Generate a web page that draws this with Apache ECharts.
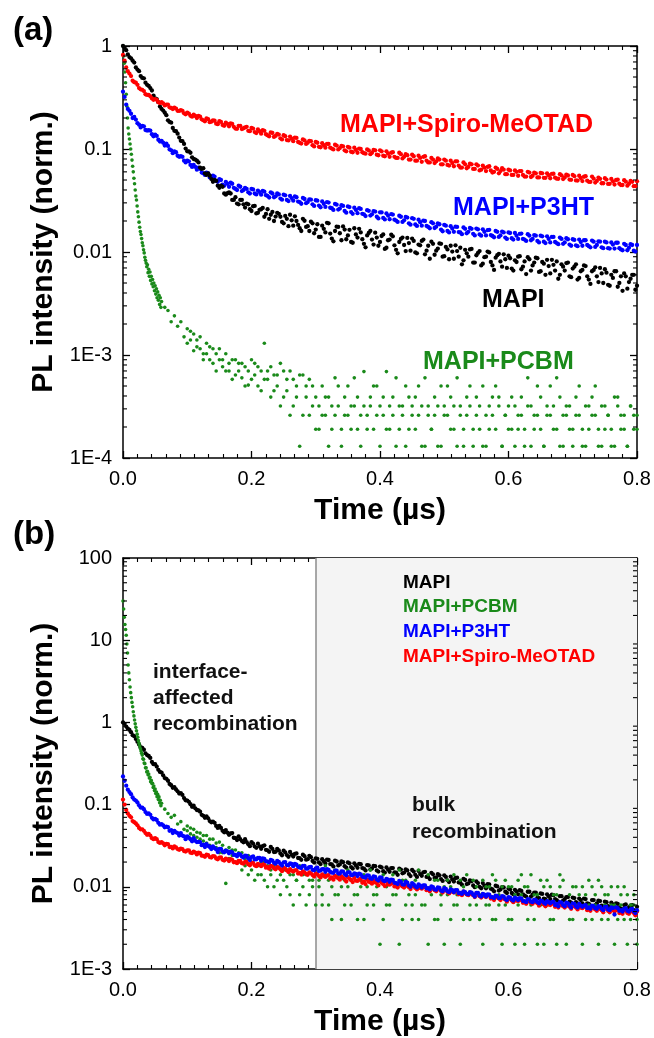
<!DOCTYPE html>
<html><head><meta charset="utf-8">
<script src="https://cdn.jsdelivr.net/npm/echarts@6/dist/echarts.min.js"></script>
<style>html,body{margin:0;padding:0;background:#fff}#c{width:654px;height:1038px}</style>
</head><body><div id="c"></div>
<script>
// ---------- data ----------
const times = [
0,0.005,0.01,0.015,0.02,0.025,0.03,0.035,0.04,0.045,
0.05,0.055,0.06,0.065,0.07,0.075,0.08,0.085,0.09,0.095,
0.1,0.105,0.11,0.115,0.12,0.125,0.13,0.135,0.14,0.145,
0.15,0.155,0.16,0.165,0.17,0.175,0.18,0.185,0.19,0.195,
0.2,0.205,0.21,0.215,0.22,0.225,0.23,0.235,0.24,0.245,
0.25,0.255,0.26,0.265,0.27,0.275,0.28,0.285,0.29,0.295,
0.3,0.305,0.31,0.315,0.32,0.325,0.33,0.335,0.34,0.345,
0.35,0.355,0.36,0.365,0.37,0.375,0.38,0.385,0.39,0.395,
0.4,0.405,0.41,0.415,0.42,0.425,0.43,0.435,0.44,0.445,
0.45,0.455,0.46,0.465,0.47,0.475,0.48,0.485,0.49,0.495,
0.5,0.505,0.51,0.515,0.52,0.525,0.53,0.535,0.54,0.545,
0.55,0.555,0.56,0.565,0.57,0.575,0.58,0.585,0.59,0.595,
0.6,0.605,0.61,0.615,0.62,0.625,0.63,0.635,0.64,0.645,
0.65,0.655,0.66,0.665,0.67,0.675,0.68,0.685,0.69,0.695,
0.7,0.705,0.71,0.715,0.72,0.725,0.73,0.735,0.74,0.745,
0.75,0.755,0.76,0.765,0.77,0.775,0.78,0.785,0.79,0.795,
0.8];
const timesMid = [
0.0025,0.0075,0.0125,0.0175,0.0225,0.0275,0.0325,0.0375,0.0425,0.0475,
0.0525,0.0575,0.0625,0.0675,0.0725,0.0775,0.0825,0.0875,0.0925,0.0975,
0.1025,0.1075,0.1125,0.1175,0.1225,0.1275,0.1325,0.1375,0.1425,0.1475,
0.1525,0.1575,0.1625,0.1675,0.1725,0.1775,0.1825,0.1875,0.1925,0.1975,
0.2025,0.2075,0.2125,0.2175,0.2225,0.2275,0.2325,0.2375,0.2425,0.2475,
0.2525,0.2575,0.2625,0.2675,0.2725,0.2775,0.2825,0.2875,0.2925,0.2975,
0.3025,0.3075,0.3125,0.3175,0.3225,0.3275,0.3325,0.3375,0.3425,0.3475,
0.3525,0.3575,0.3625,0.3675,0.3725,0.3775,0.3825,0.3875,0.3925,0.3975,
0.4025,0.4075,0.4125,0.4175,0.4225,0.4275,0.4325,0.4375,0.4425,0.4475,
0.4525,0.4575,0.4625,0.4675,0.4725,0.4775,0.4825,0.4875,0.4925,0.4975,
0.5025,0.5075,0.5125,0.5175,0.5225,0.5275,0.5325,0.5375,0.5425,0.5475,
0.5525,0.5575,0.5625,0.5675,0.5725,0.5775,0.5825,0.5875,0.5925,0.5975,
0.6025,0.6075,0.6125,0.6175,0.6225,0.6275,0.6325,0.6375,0.6425,0.6475,
0.6525,0.6575,0.6625,0.6675,0.6725,0.6775,0.6825,0.6875,0.6925,0.6975,
0.7025,0.7075,0.7125,0.7175,0.7225,0.7275,0.7325,0.7375,0.7425,0.7475,
0.7525,0.7575,0.7625,0.7675,0.7725,0.7775,0.7825,0.7875,0.7925,0.7975];
const timesEarly = [
0,0.001,0.002,0.003,0.004,0.005,0.006,0.007,0.008,0.009,
0.01,0.011,0.012,0.013,0.014,0.015,0.016,0.017,0.018,0.019,
0.02,0.021,0.022,0.023,0.024,0.025,0.026,0.027,0.028,0.029,
0.03,0.031,0.032,0.033,0.034,0.035,0.036,0.037,0.038,0.039,
0.04,0.041,0.042,0.043,0.044,0.045,0.046,0.047,0.048,0.049,
0.05,0.051,0.052,0.053,0.054,0.055,0.056,0.057,0.058,0.059,
0.06];

// ===== panel (a) =====
const mapiA = [
1.0,0.91,0.78,0.72,0.62,0.57,0.49,0.44,0.41,0.37,
0.31,0.285,0.245,0.225,0.19,0.18,0.15,0.141,0.12,0.112,
0.095,0.092,0.08,0.077,0.066,0.065,0.056,0.055,0.048,0.049,
0.042,0.043,0.036,0.038,0.032,0.034,0.029,0.032,0.027,0.029,
0.025,0.028,0.024,0.026,0.022,0.026,0.023,0.020,0.024,0.022,
0.019,0.021,0.023,0.018,0.020,0.017,0.021,0.0175,0.016,0.019,
0.0165,0.014,0.018,0.0155,0.019,0.0135,0.016,0.0175,0.013,0.0165,
0.0145,0.0125,0.017,0.0138,0.0155,0.012,0.0145,0.016,0.0118,0.0138,
0.0125,0.0148,0.011,0.0132,0.0142,0.0105,0.0125,0.0138,0.0102,0.0122,
0.0135,0.0099,0.0118,0.0128,0.0095,0.0115,0.0126,0.0094,0.0108,0.012,
0.0091,0.0106,0.0115,0.0086,0.0102,0.011,0.0083,0.0097,0.0106,0.0079,
0.0093,0.0102,0.0077,0.009,0.0099,0.0074,0.0088,0.0096,0.0072,0.0085,
0.0092,0.0069,0.0083,0.009,0.0068,0.0081,0.0089,0.0066,0.0079,0.0087,
0.0065,0.0077,0.0084,0.0062,0.0075,0.0081,0.006,0.0072,0.0078,0.0058,
0.0069,0.0076,0.0056,0.0067,0.0073,0.0054,0.0065,0.0071,0.0051,0.0062,
0.0068,0.0048,0.006,0.0065,0.0046,0.0058,0.0062,0.0044,0.0055,0.006,
0.0047];
const mapiAMid = [
0.96,0.83,0.76,0.69,0.59,0.51,0.485,0.42,0.39,0.33,
0.305,0.258,0.236,0.213,0.183,0.16,0.149,0.129,0.119,0.101,
0.095,0.083,0.079,0.074,0.064,0.058,0.058,0.051,0.05,0.044,
0.044,0.037,0.0372,0.037,0.032,0.0295,0.032,0.029,0.0295,0.026,
0.0278,0.0237,0.0257,0.0268,0.0234,0.021,0.0245,0.0221,0.0235,0.0196,
0.0224,0.0178,0.0203,0.0222,0.0183,0.016,0.0201,0.0178,0.0197,0.0152,
0.0186,0.014,0.0168,0.0192,0.0151,0.0127,0.0176,0.0152,0.0177,0.0133,
0.0164,0.0123,0.0148,0.0168,0.0133,0.0111,0.0153,0.0132,0.0154,0.0115,
0.0143,0.0107,0.013,0.0147,0.0116,0.0097,0.0134,0.0117,0.0137,0.0103,
0.0128,0.0097,0.0116,0.0132,0.0103,0.0086,0.012,0.0103,0.0121,0.009,
0.0112,0.0085,0.0101,0.0116,0.009,0.0076,0.0105,0.009,0.0107,0.0079,
0.0098,0.0074,0.0089,0.0101,0.008,0.0067,0.0093,0.0081,0.0095,0.007,
0.0087,0.0066,0.008,0.0091,0.0072,0.0061,0.0085,0.0074,0.0088,0.0064,
0.008,0.006,0.0073,0.0084,0.0066,0.0055,0.0076,0.0066,0.0079,0.0057,
0.0072,0.0054,0.0065,0.0074,0.0058,0.0049,0.0067,0.0058,0.007,0.005,
0.0063,0.0047,0.0056,0.0065,0.005,0.0042,0.0058,0.0051,0.006,0.0043];
const spiroA = [
0.82,0.62,0.54,0.46,0.44,0.39,0.375,0.34,0.335,0.31,
0.305,0.285,0.285,0.265,0.27,0.25,0.252,0.235,0.238,0.222,
0.226,0.21,0.215,0.2,0.206,0.19,0.198,0.182,0.19,0.176,
0.186,0.171,0.18,0.166,0.175,0.158,0.168,0.156,0.162,0.15,
0.16,0.146,0.155,0.141,0.15,0.136,0.145,0.131,0.14,0.127,
0.136,0.122,0.132,0.119,0.128,0.115,0.124,0.112,0.12,0.109,
0.117,0.105,0.114,0.103,0.112,0.101,0.11,0.099,0.107,0.097,
0.105,0.094,0.103,0.092,0.1,0.091,0.099,0.089,0.098,0.088,
0.097,0.086,0.095,0.084,0.093,0.082,0.092,0.081,0.089,0.079,
0.088,0.077,0.086,0.075,0.085,0.074,0.082,0.073,0.081,0.071,
0.079,0.07,0.077,0.068,0.076,0.066,0.074,0.065,0.072,0.064,
0.071,0.062,0.069,0.061,0.068,0.059,0.066,0.058,0.065,0.057,
0.063,0.056,0.062,0.055,0.061,0.054,0.06,0.0535,0.059,0.053,
0.0585,0.0525,0.058,0.052,0.0575,0.0515,0.057,0.051,0.0565,0.0505,
0.056,0.0495,0.055,0.0488,0.0545,0.048,0.054,0.0472,0.0528,0.0465,
0.052,0.0458,0.0512,0.0452,0.0505,0.0446,0.0498,0.044,0.049,0.0436,
0.0485];
const spiroAMid = [
0.72,0.57,0.51,0.445,0.42,0.38,0.365,0.335,0.325,0.30,
0.3,0.279,0.277,0.27,0.254,0.244,0.247,0.234,0.235,0.217,
0.221,0.206,0.209,0.209,0.194,0.186,0.195,0.184,0.188,0.174,
0.183,0.168,0.175,0.177,0.164,0.157,0.168,0.159,0.164,0.149,
0.158,0.143,0.149,0.152,0.139,0.133,0.143,0.134,0.138,0.124,
0.133,0.121,0.126,0.129,0.117,0.113,0.121,0.115,0.119,0.106,
0.115,0.104,0.109,0.112,0.103,0.099,0.108,0.102,0.106,0.095,
0.103,0.093,0.098,0.101,0.093,0.09,0.097,0.092,0.097,0.087,
0.095,0.085,0.09,0.092,0.084,0.082,0.089,0.084,0.087,0.079,
0.085,0.077,0.082,0.084,0.077,0.074,0.079,0.076,0.079,0.071,
0.077,0.069,0.073,0.076,0.069,0.066,0.071,0.067,0.071,0.064,
0.069,0.063,0.066,0.067,0.062,0.06,0.064,0.061,0.063,0.057,
0.062,0.056,0.06,0.061,0.056,0.054,0.059,0.055,0.058,0.053,
0.058,0.0525,0.0557,0.0574,0.0527,0.0514,0.0554,0.0529,0.0553,0.0502,
0.0545,0.0494,0.0523,0.0538,0.0493,0.0479,0.0515,0.049,0.0512,0.0465,
0.0505,0.0459,0.0486,0.05,0.046,0.0447,0.0482,0.046,0.048,0.0436];
const p3htA = [
0.36,0.27,0.235,0.2,0.193,0.172,0.168,0.153,0.152,0.139,
0.138,0.123,0.12,0.108,0.107,0.097,0.095,0.086,0.085,0.077,
0.077,0.07,0.07,0.063,0.064,0.058,0.059,0.053,0.055,0.049,
0.051,0.045,0.048,0.043,0.046,0.041,0.044,0.039,0.042,0.038,
0.041,0.037,0.0395,0.036,0.0385,0.035,0.038,0.034,0.037,0.033,
0.036,0.032,0.035,0.0315,0.034,0.0305,0.0335,0.0298,0.0325,0.029,
0.0318,0.0282,0.031,0.0274,0.0302,0.0266,0.0293,0.0258,0.0285,0.025,
0.0277,0.0244,0.0269,0.0238,0.0262,0.0232,0.0255,0.0226,0.0249,0.022,
0.0243,0.0214,0.0237,0.0208,0.0231,0.0202,0.0225,0.0196,0.0219,0.019,
0.0213,0.0185,0.0206,0.018,0.02,0.0175,0.0195,0.0171,0.019,0.0165,
0.0183,0.016,0.0178,0.0157,0.0175,0.0155,0.0173,0.0152,0.0171,0.015,
0.0169,0.0148,0.0166,0.0145,0.0164,0.0143,0.016,0.014,0.0158,0.0138,
0.0155,0.0136,0.0153,0.0134,0.0151,0.0132,0.0149,0.013,0.0146,0.0128,
0.0144,0.0126,0.0142,0.0124,0.014,0.0122,0.0138,0.012,0.0136,0.0118,
0.0133,0.0116,0.0132,0.0115,0.013,0.0114,0.0129,0.0112,0.0127,0.0111,
0.0126,0.0109,0.0124,0.0108,0.0123,0.0106,0.012,0.0104,0.0119,0.0103,
0.0117];
const p3htAMid = [
0.32,0.245,0.22,0.205,0.178,0.162,0.166,0.151,0.151,0.133,
0.134,0.118,0.115,0.113,0.099,0.091,0.093,0.084,0.084,0.074,
0.076,0.067,0.067,0.066,0.059,0.056,0.058,0.053,0.054,0.048,
0.05,0.044,0.046,0.047,0.042,0.04,0.043,0.04,0.041,0.037,
0.0405,0.0362,0.0382,0.0392,0.0356,0.0338,0.037,0.0347,0.0362,0.0322,
0.0355,0.0312,0.0334,0.0346,0.0309,0.0294,0.0327,0.0305,0.0322,0.028,
0.0315,0.0272,0.0294,0.0305,0.0269,0.0256,0.0288,0.0264,0.028,0.0241,
0.0273,0.0235,0.0256,0.0266,0.0235,0.0223,0.0251,0.0232,0.0247,0.0212,
0.0242,0.0207,0.0226,0.0233,0.0206,0.0196,0.022,0.0203,0.0216,0.0184,
0.021,0.0179,0.0195,0.0202,0.0179,0.017,0.019,0.0176,0.0186,0.0159,
0.018,0.0155,0.0169,0.0176,0.0156,0.0149,0.0168,0.0157,0.0168,0.0145,
0.0166,0.0144,0.0157,0.0163,0.0146,0.0139,0.0157,0.0145,0.0155,0.0134,
0.0153,0.0132,0.0144,0.015,0.0134,0.0128,0.0144,0.0134,0.0144,0.0124,
0.0142,0.0122,0.0134,0.014,0.0125,0.0119,0.0134,0.0124,0.0133,0.0115,
0.0131,0.0114,0.0125,0.013,0.0117,0.0111,0.0126,0.0117,0.0126,0.0109,
0.0124,0.0108,0.0118,0.0123,0.0109,0.0104,0.0117,0.011,0.0117,0.0101];
const pcbmEarlyA = [
1.0,0.8,0.68,0.56,0.44,0.34,0.26,0.2,0.16,0.14,
0.125,0.112,0.1,0.089,0.078,0.068,0.06,0.052,0.046,0.04,
0.035,0.032,0.028,0.0245,0.022,0.0195,0.0174,0.0158,0.0148,0.0135,
0.0123,0.0115,0.0105,0.0098,0.0089,0.0083,0.0078,0.0072,0.0075,0.0063,
0.0068,0.0058,0.0064,0.0053,0.0058,0.0049,0.0054,0.0046,0.005,0.0042,
0.0047,0.0039,0.0044,0.0036,0.0041,0.0034,0.0038,0.0031,0.0036,0.0029,
0.0033];
const pcbmA = [
null,null,null,null,null,null,null,null,null,null,
null,null,null,0.0029,0.0027,0.0021,0.0024,0.0019,0.0021,0.0015,
0.0018,0.0014,0.0016,0.0012,0.0015,0.00103,0.0013,0.0009,0.00115,0.00103,
0.0009,0.00077,0.00103,0.0007,0.0009,0.00064,0.00083,0.0006,0.00077,0.00051,
0.0009,0.00064,0.0005,0.0007,0.0013,0.00058,0.00077,0.00045,0.00064,0.00083,
0.00039,0.00058,0.0007,0.00032,0.0005,0.00013,0.00064,0.00039,0.00026,0.0005,
0.00019,3.2e-4,5.0e-4,2.6e-4,3.9e-4,1.9e-4,6.0e-4,3.2e-4,1.3e-4,2.6e-4,
5.0e-4,1.9e-4,3.2e-4,3.9e-4,2.6e-4,6.9e-4,1.9e-4,3.2e-4,5.0e-4,2.6e-4,
1.3e-4,3.9e-4,1.9e-4,3.2e-4,2.6e-4,6.0e-4,1.9e-4,3.2e-4,1.3e-4,3.9e-4,
2.6e-4,1.9e-4,5.0e-4,3.2e-4,1.3e-4,2.6e-4,1.9e-4,3.9e-4,3.2e-4,1.3e-4,
2.6e-4,5.0e-4,1.9e-4,3.2e-4,1.3e-4,2.6e-4,1.9e-4,3.9e-4,3.2e-4,1.3e-4,
2.6e-4,1.9e-4,5.0e-4,1.3e-4,3.2e-4,2.6e-4,1.9e-4,3.9e-4,1.3e-4,2.6e-4,
3.2e-4,1.9e-4,1.3e-4,2.6e-4,3.9e-4,1.9e-4,3.2e-4,1.3e-4,2.6e-4,5.0e-4,
1.9e-4,1.3e-4,3.2e-4,2.6e-4,1.9e-4,6.0e-4,1.3e-4,2.6e-4,3.2e-4,1.9e-4,
1.3e-4,3.9e-4,2.6e-4,1.9e-4,1.3e-4,3.2e-4,2.6e-4,5.0e-4,1.9e-4,1.3e-4,
3.2e-4,2.6e-4,1.9e-4,1.3e-4,3.9e-4,2.6e-4,1.9e-4,1.3e-4,3.2e-4,2.6e-4,
1.9e-4];
const pcbmA2 = [
null,null,null,null,null,null,null,null,null,null,
null,null,null,null,null,null,null,null,null,null,
0.0013,0.0017,0.0011,0.0014,0.00115,0.0009,0.00103,0.0012,0.00083,0.0007,
0.00115,0.0009,0.0007,0.00083,0.00058,0.0009,0.0007,0.00083,0.0005,0.0007,
0.00058,0.00083,0.00077,0.00045,0.00058,0.0007,0.00039,0.00064,0.0005,0.00032,
0.0007,0.00045,0.00026,0.00058,0.00039,0.00064,0.00026,0.0005,0.00058,0.00032,
0.00039,1.9e-4,2.6e-4,3.9e-4,1.3e-4,3.2e-4,2.6e-4,5.0e-4,1.9e-4,3.9e-4,
2.6e-4,3.2e-4,6.0e-4,1.9e-4,1.3e-4,3.2e-4,2.6e-4,3.9e-4,1.9e-4,5.0e-4,
3.2e-4,2.6e-4,6.9e-4,1.9e-4,3.9e-4,1.3e-4,3.2e-4,2.6e-4,5.0e-4,1.9e-4,
3.2e-4,3.9e-4,2.6e-4,1.3e-4,6.0e-4,3.2e-4,1.9e-4,2.6e-4,1.3e-4,5.0e-4,
3.2e-4,2.6e-4,3.9e-4,1.9e-4,6.0e-4,3.2e-4,1.3e-4,2.6e-4,5.0e-4,1.9e-4,
3.9e-4,3.2e-4,1.3e-4,2.6e-4,1.9e-4,3.9e-4,5.0e-4,3.2e-4,1.3e-4,2.6e-4,
1.9e-4,3.9e-4,3.2e-4,1.9e-4,2.6e-4,1.3e-4,6.0e-4,3.2e-4,1.9e-4,2.6e-4,
3.9e-4,1.3e-4,2.6e-4,5.0e-4,3.2e-4,1.9e-4,3.9e-4,1.3e-4,2.6e-4,3.2e-4,
1.9e-4,2.6e-4,5.0e-4,1.3e-4,3.2e-4,1.9e-4,3.9e-4,2.6e-4,1.3e-4,3.2e-4,
1.9e-4,2.6e-4,1.3e-4,3.9e-4,3.2e-4,1.9e-4,2.6e-4,1.3e-4,3.2e-4,1.9e-4,
2.6e-4];

// ===== panel (b) =====
const mapiB = [
1.0,0.89,0.81,0.7,0.63,0.54,0.49,0.42,0.39,0.33,
0.31,0.265,0.245,0.21,0.195,0.172,0.163,0.145,0.138,0.12,
0.112,0.101,0.097,0.086,0.082,0.073,0.072,0.063,0.062,0.055,
0.055,0.048,0.049,0.043,0.045,0.039,0.041,0.036,0.038,0.033,
0.035,0.031,0.0335,0.029,0.032,0.0278,0.0305,0.0265,0.029,0.0255,
0.0275,0.0243,0.0265,0.0233,0.0255,0.0223,0.0246,0.0214,0.0238,0.0206,
0.0222,0.0198,0.0217,0.0192,0.0212,0.0187,0.0208,0.0182,0.0203,0.0178,
0.0198,0.0174,0.0193,0.017,0.0188,0.0166,0.0184,0.0162,0.018,0.0158,
0.0176,0.0155,0.0172,0.0152,0.0169,0.0149,0.0166,0.0146,0.0163,0.0143,
0.016,0.014,0.0156,0.0136,0.0152,0.0132,0.0148,0.0128,0.0143,0.0124,
0.0138,0.012,0.0133,0.0116,0.0129,0.0112,0.0125,0.0108,0.012,0.0104,
0.0116,0.01,0.0111,0.0096,0.0107,0.0093,0.0103,0.009,0.0099,0.0087,
0.0095,0.0084,0.0092,0.0081,0.0089,0.0078,0.0087,0.0076,0.0085,0.0074,
0.0083,0.0072,0.0081,0.0071,0.0079,0.0069,0.0077,0.0068,0.0075,0.0066,
0.0074,0.0065,0.0072,0.0063,0.0071,0.0062,0.0069,0.006,0.0068,0.0059,
0.0066,0.0058,0.0064,0.0056,0.0062,0.0054,0.006,0.0053,0.0059,0.0052,
0.0057];
const mapiBMid = [
0.96,0.84,0.76,0.68,0.58,0.5,0.465,0.4,0.37,0.31,
0.29,0.25,0.227,0.206,0.178,0.16,0.153,0.136,0.131,0.113,
0.108,0.094,0.09,0.085,0.075,0.069,0.068,0.061,0.06,0.052,
0.052,0.046,0.0455,0.0445,0.0395,0.037,0.038,0.0348,0.035,0.0312,
0.0335,0.0298,0.0311,0.0312,0.0282,0.0267,0.0289,0.0267,0.0277,0.0242,
0.0262,0.0232,0.0246,0.0251,0.0224,0.0213,0.0236,0.0217,0.0229,0.0197,
0.0219,0.0189,0.0205,0.0214,0.0189,0.0177,0.0203,0.0187,0.0199,0.0171,
0.0193,0.0167,0.0182,0.019,0.0169,0.0158,0.0182,0.0167,0.0178,0.0153,
0.0172,0.0149,0.0162,0.0169,0.015,0.014,0.0162,0.0149,0.0158,0.0135,
0.0153,0.0132,0.0143,0.015,0.0132,0.0124,0.0142,0.013,0.0138,0.0118,
0.0132,0.0114,0.0123,0.0128,0.0113,0.0106,0.0121,0.011,0.0117,0.0099,
0.0111,0.0096,0.0103,0.0108,0.0095,0.0088,0.0101,0.0093,0.0098,0.0084,
0.0093,0.0081,0.0088,0.0091,0.0081,0.0076,0.0087,0.008,0.0085,0.0073,
0.0082,0.0071,0.0077,0.008,0.0071,0.0066,0.0077,0.0071,0.0075,0.0064,
0.0073,0.0063,0.0069,0.0072,0.0063,0.0059,0.0069,0.0063,0.0067,0.0057,
0.0065,0.0056,0.0061,0.0063,0.0056,0.0053,0.0061,0.0056,0.006,0.0051];
const spiroB = [
0.115,0.086,0.073,0.063,0.059,0.052,0.05,0.045,0.044,0.039,
0.039,0.035,0.035,0.032,0.033,0.0305,0.031,0.0288,0.0292,0.0272,
0.0278,0.026,0.0268,0.0248,0.0256,0.0238,0.0246,0.023,0.0236,0.0221,
0.0227,0.0213,0.022,0.0206,0.0213,0.02,0.0207,0.0194,0.0201,0.0188,
0.0196,0.0183,0.019,0.0178,0.0185,0.0173,0.018,0.0168,0.0175,0.0163,
0.017,0.0158,0.0164,0.0153,0.0159,0.0148,0.0154,0.0143,0.015,0.0139,
0.0145,0.0135,0.0142,0.0132,0.0139,0.013,0.0136,0.0127,0.0134,0.0124,
0.0131,0.0121,0.0128,0.0118,0.0125,0.0116,0.0122,0.0113,0.012,0.0111,
0.0117,0.0108,0.0115,0.0106,0.0112,0.0104,0.011,0.0101,0.0107,0.0099,
0.0105,0.0097,0.0102,0.0095,0.01,0.0093,0.0098,0.0091,0.0095,0.0089,
0.0093,0.0087,0.0091,0.0085,0.0089,0.0083,0.0087,0.0081,0.0085,0.0079,
0.0083,0.0077,0.0081,0.0075,0.0079,0.0073,0.0077,0.0072,0.0075,0.007,
0.0073,0.0068,0.0072,0.0067,0.007,0.0065,0.0069,0.0064,0.0067,0.0063,
0.0066,0.0061,0.0065,0.006,0.0063,0.0059,0.0062,0.0058,0.0061,0.0057,
0.006,0.0056,0.0059,0.0055,0.0058,0.0054,0.0057,0.0053,0.0056,0.0052,
0.0055,0.0051,0.0054,0.005,0.0053,0.0049,0.0052,0.0048,0.0051,0.0048,
0.005];
const spiroBMid = [
0.1,0.078,0.07,0.061,0.056,0.05,0.048,0.043,0.042,0.038,
0.038,0.0342,0.0338,0.0332,0.0304,0.0293,0.0301,0.0282,0.0288,0.0268,
0.0278,0.0257,0.0261,0.026,0.0239,0.0232,0.0243,0.0227,0.0235,0.0216,
0.0228,0.0209,0.0215,0.0217,0.0199,0.0194,0.0206,0.0191,0.0201,0.0183,
0.0196,0.0178,0.0185,0.0187,0.0171,0.0166,0.0177,0.0163,0.0171,0.0155,
0.0166,0.0151,0.0157,0.0158,0.0145,0.0141,0.015,0.014,0.0146,0.0133,
0.0143,0.013,0.0136,0.0137,0.0126,0.0122,0.0131,0.0122,0.0128,0.0116,
0.0125,0.0114,0.0119,0.0122,0.0112,0.0108,0.0116,0.0109,0.0113,0.0104,
0.0112,0.0102,0.0107,0.0109,0.0101,0.0098,0.0105,0.0098,0.0103,0.0094,
0.0101,0.0093,0.0097,0.0099,0.0091,0.0088,0.0095,0.0088,0.0093,0.0085,
0.0091,0.0083,0.0087,0.0088,0.0081,0.0079,0.0084,0.0079,0.0082,0.0075,
0.0081,0.0074,0.0077,0.0078,0.0072,0.0069,0.0074,0.0069,0.0072,0.0066,
0.0071,0.0065,0.0068,0.0069,0.0064,0.0062,0.0066,0.0062,0.0065,0.0059,
0.0064,0.0058,0.0061,0.0062,0.0057,0.0056,0.006,0.0056,0.0059,0.0054,
0.0058,0.0053,0.0056,0.0057,0.0052,0.0051,0.0055,0.0051,0.0054,0.0049,
0.0054,0.0049,0.0052,0.0052,0.0048,0.0047,0.0051,0.0047,0.005,0.0045];
const p3htB = [
0.22,0.17,0.142,0.122,0.112,0.098,0.092,0.081,0.078,0.069,
0.067,0.06,0.058,0.053,0.053,0.049,0.048,0.045,0.045,0.041,
0.041,0.038,0.039,0.035,0.035,0.0325,0.033,0.0305,0.031,0.0285,
0.029,0.027,0.0276,0.0256,0.0263,0.0244,0.0251,0.0233,0.024,0.0223,
0.023,0.0215,0.0224,0.0208,0.0218,0.0202,0.0212,0.0196,0.0206,0.019,
0.0198,0.0184,0.0192,0.0178,0.0186,0.0172,0.018,0.0166,0.0174,0.0161,
0.0168,0.0156,0.0164,0.0152,0.016,0.0149,0.0157,0.0146,0.0154,0.0143,
0.015,0.0139,0.0146,0.0135,0.0142,0.0131,0.0138,0.0127,0.0134,0.0123,
0.013,0.0119,0.0125,0.0115,0.0121,0.0111,0.0118,0.0107,0.0115,0.0104,
0.0111,0.0101,0.0107,0.0098,0.0104,0.0096,0.0101,0.0093,0.0098,0.009,
0.0096,0.0088,0.0093,0.0086,0.0091,0.0084,0.0088,0.0082,0.0086,0.008,
0.0084,0.0078,0.0082,0.0076,0.008,0.0075,0.0078,0.0073,0.0077,0.0071,
0.0075,0.007,0.0074,0.0069,0.0072,0.0067,0.0071,0.0066,0.007,0.0065,
0.0068,0.0064,0.0067,0.0063,0.0066,0.0062,0.0065,0.006,0.0064,0.0059,
0.0063,0.0058,0.0062,0.0057,0.006,0.0056,0.0059,0.0055,0.0058,0.0054,
0.0057,0.0053,0.0056,0.0046,0.0055,0.0052,0.0054,0.0051,0.0053,0.005,
0.0052];
const p3htBMid = [
0.195,0.152,0.134,0.115,0.106,0.092,0.088,0.077,0.075,0.066,
0.065,0.057,0.056,0.054,0.048,0.045,0.046,0.042,0.042,0.038,
0.0397,0.0358,0.0362,0.0352,0.0321,0.0305,0.0314,0.0288,0.0296,0.0265,
0.029,0.0263,0.027,0.0267,0.0245,0.0235,0.0246,0.0227,0.0237,0.0212,
0.0235,0.0216,0.0224,0.0222,0.0205,0.0198,0.0208,0.0191,0.0201,0.0181,
0.02,0.0183,0.019,0.019,0.0175,0.0169,0.018,0.0167,0.0175,0.0159,
0.0171,0.0158,0.0164,0.0164,0.0152,0.0148,0.0157,0.0145,0.0153,0.0138,
0.015,0.0139,0.0144,0.0145,0.0133,0.0129,0.0137,0.0125,0.0132,0.0119,
0.0129,0.0117,0.0122,0.0122,0.0112,0.0108,0.0115,0.0106,0.0112,0.01,
0.0107,0.0098,0.0103,0.0104,0.0096,0.0093,0.0099,0.0092,0.0097,0.0088,
0.0094,0.0086,0.0091,0.0091,0.0084,0.0082,0.0086,0.0081,0.0085,0.0076,
0.0084,0.0076,0.008,0.0081,0.0075,0.0073,0.0077,0.0073,0.0076,0.0069,
0.0074,0.0068,0.0072,0.0073,0.0067,0.0065,0.007,0.0065,0.0069,0.0063,
0.0067,0.0062,0.0065,0.0065,0.006,0.0058,0.0064,0.0058,0.0063,0.0056,
0.0062,0.0056,0.0059,0.0059,0.0055,0.0054,0.0058,0.0054,0.0057,0.0052,
0.0057,0.0052,0.0055,0.0056,0.0051,0.005,0.0055,0.005,0.0054,0.0048];
const pcbmEarlyB = [
30,24,19,15.5,13.5,11.5,9,7,5.0,4.0,
3.3,2.7,2.3,2.0,1.75,1.55,1.35,1.2,1.07,0.96,
0.87,0.79,0.72,0.66,0.6,0.555,0.515,0.48,0.45,0.42,
0.40,0.36,0.355,0.32,0.315,0.28,0.28,0.25,0.255,0.23,
0.235,0.21,0.215,0.19,0.197,0.18,0.182,0.162,0.168,0.148,
0.155,0.136,0.142,0.125,0.133,0.115,0.124,0.105,0.113,0.097,
0.104];
const pcbmB = [
null,null,null,null,null,null,null,null,null,null,
null,null,null,0.088,0.078,0.07,0.074,0.058,0.062,0.05,
0.055,0.044,0.05,0.04,0.045,0.036,0.042,0.032,0.038,0.03,
0.035,0.026,0.011,0.03,0.024,0.028,0.02,0.026,0.018,0.024,
0.016,0.022,0.014,0.02,0.012,0.018,0.016,0.01,0.02,0.014,
0.012,0.016,0.008,0.014,0.012,0.018,0.01,0.014,0.008,0.012,
0.016,0.012,0.008,0.014,0.006,0.01,0.016,0.008,0.004,0.012,
0.01,0.006,0.014,0.008,0.012,0.004,0.01,0.016,0.006,0.008,
0.012,0.004,0.01,0.006,0.014,0.008,0.002,0.012,0.006,0.01,
0.004,0.008,0.016,0.006,0.01,0.002,0.008,0.012,0.004,0.006,
0.01,0.008,0.004,0.014,0.006,0.002,0.01,0.008,0.004,0.012,
0.006,0.008,0.002,0.01,0.006,0.004,0.012,0.008,0.002,0.006,
0.01,0.004,0.008,0.006,0.014,0.002,0.01,0.006,0.004,0.008,
0.012,0.002,0.006,0.01,0.004,0.008,0.014,0.006,0.002,0.008,
0.004,0.01,0.006,0.002,0.008,0.012,0.004,0.006,0.002,0.01,
0.008,0.004,0.006,0.002,0.01,0.008,0.004,0.002,0.006,0.008,
0.004];
const pcbmB2 = [
null,null,null,null,null,null,null,null,null,null,
null,null,null,null,null,null,null,null,null,null,
0.048,0.052,0.042,0.046,0.038,0.042,0.034,0.038,0.03,0.034,
0.026,0.032,0.028,0.022,0.028,0.02,0.026,0.016,0.022,0.014,
0.02,0.012,0.018,0.014,0.02,0.01,0.014,0.018,0.012,0.008,
0.016,0.01,0.014,0.006,0.012,0.008,0.014,0.006,0.012,0.01,
0.006,0.01,0.006,0.018,0.012,0.004,0.008,0.014,0.01,0.006,
0.016,0.012,0.008,0.004,0.01,0.014,0.006,0.012,0.008,0.01,
0.002,0.014,0.006,0.012,0.008,0.01,0.016,0.004,0.012,0.008,
0.006,0.012,0.004,0.01,0.006,0.014,0.01,0.004,0.012,0.008,
0.002,0.012,0.01,0.006,0.008,0.012,0.004,0.014,0.006,0.008,
0.01,0.004,0.012,0.006,0.01,0.014,0.004,0.006,0.01,0.012,
0.004,0.01,0.002,0.012,0.008,0.01,0.004,0.014,0.008,0.002,
0.006,0.01,0.012,0.004,0.008,0.002,0.01,0.012,0.006,0.004,
0.01,0.006,0.008,0.01,0.004,0.006,0.01,0.008,0.012,0.004,
0.006,0.008,0.01,0.006,0.004,0.006,0.01,0.008,0.004,0.006,
0.002];

// ticks / labels
const xTicks = [0, 0.2, 0.4, 0.6, 0.8];
const xTickLabels = ['0.0', '0.2', '0.4', '0.6', '0.8'];
const yTicksA = [1e-4, 1e-3, 0.01, 0.1, 1];
const yTickLabelsA = ['1E-4', '1E-3', '0.01', '0.1', '1'];
const yTicksB = [1e-3, 0.01, 0.1, 1, 10, 100];
const yTickLabelsB = ['1E-3', '0.01', '0.1', '1', '10', '100'];
const seriesNames = ['MAPI', 'MAPI+PCBM', 'MAPI+P3HT', 'MAPI+Spiro-MeOTAD'];
const seriesColors = ['#000000', '#1a8a1a', '#0000ff', '#ff0000'];

// ---------- chart ----------
const FONT = "'Liberation Sans', Arial, Helvetica, sans-serif";
const chart = echarts.init(document.getElementById('c'), null, {renderer: 'canvas'});

function lookup(ticks, labels, v, log) {
  for (let i = 0; i < ticks.length; i++) {
    const d = log ? Math.abs(Math.log10(ticks[i]) - Math.log10(v)) : Math.abs(ticks[i] - v);
    if (d < 1e-6) return labels[i];
  }
  return '';
}
function xAx(grid, pos, show) {
  return {
    type: 'value', gridIndex: grid, position: pos, min: 0, max: 0.8, interval: 0.2,
    axisLine: {show: true, onZero: false, lineStyle: {color: '#000', width: 1.5}},
    axisTick: {show: true, inside: true, length: 7, lineStyle: {color: '#000', width: 1.3}},
    minorTick: {show: true, splitNumber: 9, length: 4, lineStyle: {color: '#000', width: 1.1}},
    splitLine: {show: false}, minorSplitLine: {show: false},
    axisLabel: {show: show, margin: 11, fontSize: 20, color: '#000', fontFamily: FONT,
      formatter: v => lookup(xTicks, xTickLabels, v, false)},
    name: show ? 'Time (µs)' : '', nameLocation: 'middle', nameGap: 38,
    nameTextStyle: {fontSize: 30, fontWeight: 'bold', color: '#000', fontFamily: FONT}
  };
}
function yAx(grid, pos, show, ticks, labels) {
  return {
    type: 'log', logBase: 10, gridIndex: grid, position: pos,
    min: ticks[0], max: ticks[ticks.length - 1], splitNumber: ticks.length,
    axisLine: {show: true, onZero: false, lineStyle: {color: '#000', width: 1.5}},
    axisTick: {show: true, inside: true, length: 7, lineStyle: {color: '#000', width: 1.3}},
    minorTick: {show: false}, splitLine: {show: false},
    axisLabel: {show: show, margin: 11, fontSize: 20, color: '#000', fontFamily: FONT,
      formatter: v => lookup(ticks, labels, v, true)},
    name: show ? 'PL intensity (norm.)' : '', nameLocation: 'middle', nameGap: 56,
    nameTextStyle: {fontSize: 30, fontWeight: 'bold', color: '#000', fontFamily: FONT}
  };
}
function pairs(ts, vals) {
  const out = [];
  for (let i = 0; i < ts.length; i++) if (vals[i] != null) out.push([ts[i], vals[i]]);
  return out;
}
function sc(nameIdx, xi, yi, data, z, size, extra) {
  return Object.assign({
    type: 'scatter', name: seriesNames[nameIdx], xAxisIndex: xi, yAxisIndex: yi,
    data: data, symbolSize: size, z: z, silent: true,
    itemStyle: {color: seriesColors[nameIdx], opacity: 1}
  }, extra || {});
}
function minorVals(ticks) {
  const out = [];
  for (let i = 0; i < ticks.length - 1; i++) for (let m = 2; m <= 9; m++) out.push(ticks[i] * m);
  return out;
}
function minorSeries(xi, yi, ticks) {
  return {
    type: 'custom', xAxisIndex: xi, yAxisIndex: yi, silent: true, clip: false, z: 10,
    data: minorVals(ticks).map(v => [0, v]), encode: {x: 0, y: 1},
    renderItem: (params, api) => {
      const v = api.value(1);
      const l = api.coord([0, v]);
      const r = api.coord([0.8, v]);
      return {type: 'group', children: [
        {type: 'line', shape: {x1: l[0], y1: l[1], x2: l[0] + 4, y2: l[1]}, style: {stroke: '#000', lineWidth: 1.1}},
        {type: 'line', shape: {x1: r[0] - 4, y1: r[1], x2: r[0], y2: r[1]}, style: {stroke: '#000', lineWidth: 1.1}}
      ]};
    }
  };
}
function txt(x, y, s, color, size) {
  return {type: 'text', x: x, y: y, silent: true, z: 50,
    style: {text: s, fill: color, fontSize: size, fontWeight: 'bold', fontFamily: FONT,
      align: 'left', verticalAlign: 'middle'}};
}

const BIG = 4.3, SMALL = 3.6;
const option = {
  animation: false,
  backgroundColor: '#fff',
  grid: [
    {left: 123, top: 46, width: 514, height: 412},
    {left: 123, top: 558, width: 514, height: 411}
  ],
  xAxis: [xAx(0, 'bottom', true), xAx(0, 'top', false), xAx(1, 'bottom', true), xAx(1, 'top', false)],
  yAxis: [
    yAx(0, 'left', true, yTicksA, yTickLabelsA), yAx(0, 'right', false, yTicksA, yTickLabelsA),
    yAx(1, 'left', true, yTicksB, yTickLabelsB), yAx(1, 'right', false, yTicksB, yTickLabelsB)
  ],
  series: [
    // panel (a)
    sc(1, 0, 0, pairs(timesEarly, pcbmEarlyA), 2, SMALL),
    sc(1, 0, 0, pairs(times, pcbmA), 2, SMALL),
    sc(1, 0, 0, pairs(times, pcbmA2), 2, SMALL),
    sc(2, 0, 0, pairs(times, p3htA), 3, BIG),
    sc(2, 0, 0, pairs(timesMid, p3htAMid), 3, BIG),
    sc(0, 0, 0, pairs(times, mapiA), 4, BIG),
    sc(0, 0, 0, pairs(timesMid, mapiAMid), 4, BIG),
    sc(3, 0, 0, pairs(times, spiroA), 5, BIG),
    sc(3, 0, 0, pairs(timesMid, spiroAMid), 5, BIG),
    minorSeries(0, 0, yTicksA),
    // panel (b)
    sc(0, 2, 2, pairs(times, mapiB), 3, BIG, {
      markArea: {silent: true, z: 1, itemStyle: {color: '#f4f4f4'}, data: [[{xAxis: 0.3}, {xAxis: 0.8}]]},
      markLine: {silent: true, z: 1, symbol: ['none', 'none'], label: {show: false},
        lineStyle: {color: '#8c8c8c', width: 1.5, type: 'solid'}, data: [{xAxis: 0.3}]}
    }),
    sc(0, 2, 2, pairs(timesMid, mapiBMid), 3, BIG),
    sc(1, 2, 2, pairs(timesEarly, pcbmEarlyB), 3, SMALL),
    sc(1, 2, 2, pairs(times, pcbmB), 3, SMALL),
    sc(1, 2, 2, pairs(times, pcbmB2), 3, SMALL),
    sc(3, 2, 2, pairs(times, spiroB), 4, BIG),
    sc(3, 2, 2, pairs(timesMid, spiroBMid), 4, BIG),
    sc(2, 2, 2, pairs(times, p3htB), 5, BIG),
    sc(2, 2, 2, pairs(timesMid, p3htBMid), 5, BIG),
    minorSeries(2, 2, yTicksB)
  ],
  graphic: {elements: [
    txt(13, 31, '(a)', '#000', 33),
    txt(13, 535, '(b)', '#000', 33),
    txt(340, 125, 'MAPI+Spiro-MeOTAD', seriesColors[3], 25),
    txt(453, 208, 'MAPI+P3HT', seriesColors[2], 25),
    txt(482, 300, 'MAPI', seriesColors[0], 25),
    txt(423, 362, 'MAPI+PCBM', seriesColors[1], 25),
    txt(403, 583, 'MAPI', seriesColors[0], 19),
    txt(403, 607, 'MAPI+PCBM', seriesColors[1], 19),
    txt(403, 632, 'MAPI+P3HT', seriesColors[2], 19),
    txt(403, 657, 'MAPI+Spiro-MeOTAD', seriesColors[3], 19),
    txt(153, 672, 'interface-', '#111', 21),
    txt(153, 698, 'affected', '#111', 21),
    txt(153, 724, 'recombination', '#111', 21),
    txt(412, 805, 'bulk', '#111', 21),
    txt(412, 832, 'recombination', '#111', 21)
  ]}
};
chart.setOption(option);
</script>
</body></html>
